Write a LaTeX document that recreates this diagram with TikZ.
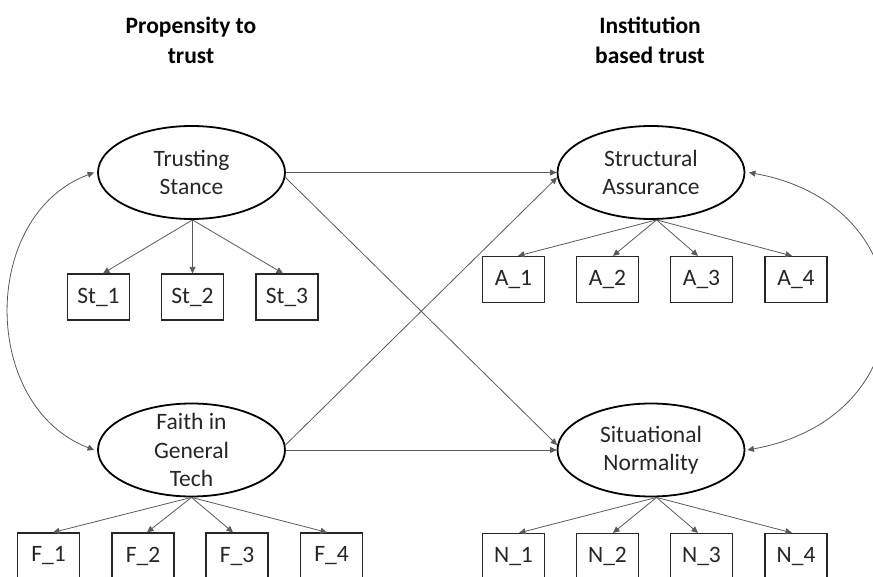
\documentclass[tikz,border=0pt]{standalone}
\usepackage{fontspec}
\setmainfont{Carlito}
\usetikzlibrary{arrows.meta,shapes.geometric}
\definecolor{linegray}{HTML}{5A5A5A}
\definecolor{inkdark}{HTML}{262626}
\begin{document}
\begin{tikzpicture}[x=1pt,y=-1pt,
  latent/.style={ellipse,draw=black,line width=1.8pt,minimum width=187pt,minimum height=93pt,inner sep=0pt},
  latlabel/.style={align=center,inner sep=0pt,font=\fontsize{23.5}{28.5}\selectfont,text=inkdark},
  indicator/.style={rectangle,draw=inkdark,line width=1.2pt,minimum width=62pt,minimum height=46pt,inner sep=0pt,font=\fontsize{23.5}{28}\selectfont,text=inkdark},
  heading/.style={align=center,inner sep=0pt,font=\fontsize{23.5}{30}\selectfont\bfseries,text=black},
  link/.style={draw=linegray,line width=0.8pt,-{Triangle[length=6.5pt,width=6pt]}},
  cov/.style={draw=linegray,line width=0.8pt,{Triangle[length=6.5pt,width=6pt]}-{Triangle[length=6.5pt,width=6pt]}}
]
\useasboundingbox (0,0) rectangle (873,577);
\clip (0,0) rectangle (873,577);
\fill[white] (0,0) rectangle (873,577);

% group headings
\node[heading] (ptitle) at (191,40) {Propensity to\\trust};
\node[heading] (ititle) at (650,40) {Institution\\based trust};

% latent constructs
\node[latent] (ts) at (191.5,172.5) {};
\node[latlabel] (tstext) at (ts) {Trusting\\Stance};
\node[latent] (fg) at (191.5,450) {};
\node[latlabel] (fgtext) at (fg) {Faith in\\General\\Tech};
\node[latent] (sa) at (651,172.5) {};
\node[latlabel] (satext) at (sa) {Structural\\Assurance};
\node[latent] (sn) at (651,450) {};
\node[latlabel] (sntext) at (sn) {Situational\\Normality};

% indicators
\node[indicator] (st1) at (98.5,297) {St\_1};
\node[indicator] (st2) at (192.5,297) {St\_2};
\node[indicator] (st3) at (287,297) {St\_3};

\node[indicator] (a1) at (513.5,279.5) {A\_1};
\node[indicator] (a2) at (607.5,279.5) {A\_2};
\node[indicator] (a3) at (701.5,279.5) {A\_3};
\node[indicator] (a4) at (796,279.5) {A\_4};

\node[indicator] (f1) at (48.5,556) {F\_1};
\node[indicator] (f2) at (143,556) {F\_2};
\node[indicator] (f3) at (237,556) {F\_3};
\node[indicator] (f4) at (331.5,556) {F\_4};

\node[indicator] (n1) at (513.5,556.5) {N\_1};
\node[indicator] (n2) at (607.5,556.5) {N\_2};
\node[indicator] (n3) at (701.5,556.5) {N\_3};
\node[indicator] (n4) at (796,556.5) {N\_4};

% loadings
\draw[link] ([xshift=1pt]ts.south) -- ([xshift=4.5pt]st1.north);
\draw[link] ([xshift=1pt]ts.south) -- (st2.north);
\draw[link] ([xshift=1pt]ts.south) -- ([xshift=-4pt]st3.north);

\draw[link] (fg.south) -- ([xshift=4.5pt]f1.north);
\draw[link] (fg.south) -- ([xshift=4pt]f2.north);
\draw[link] (fg.south) -- ([xshift=-4pt]f3.north);
\draw[link] (fg.south) -- ([xshift=-4.5pt]f4.north);

\draw[link] ([xshift=5.5pt]sa.south) -- ([xshift=4.5pt]a1.north);
\draw[link] ([xshift=5.5pt]sa.south) -- ([xshift=5.5pt]a2.north);
\draw[link] ([xshift=5.5pt]sa.south) -- ([xshift=-3.5pt]a3.north);
\draw[link] ([xshift=5.5pt]sa.south) -- ([xshift=-4pt]a4.north);

\draw[link] ([xshift=5.5pt]sn.south) -- ([xshift=5.5pt]n1.north);
\draw[link] ([xshift=5.5pt]sn.south) -- ([xshift=5.5pt]n2.north);
\draw[link] ([xshift=5.5pt]sn.south) -- ([xshift=-3.5pt]n3.north);
\draw[link] ([xshift=5.5pt]sn.south) -- ([xshift=-4pt]n4.north);

% structural paths
\draw[link] (ts.east) -- (sa.west);
\draw[link] (ts.-3) -- (sn.177);
\draw[link] (fg.3) -- (sa.183);
\draw[link] (fg.east) -- (sn.west);

% covariances
\draw[cov] ([xshift=-3pt]ts.west) .. controls (-20,215) and (-20,406) .. ([xshift=-3pt]fg.west);
\draw[cov] ([xshift=3.5pt]sa.east) .. controls (930,205) and (930,417) .. ([xshift=2pt]sn.east);
\end{tikzpicture}
\end{document}
